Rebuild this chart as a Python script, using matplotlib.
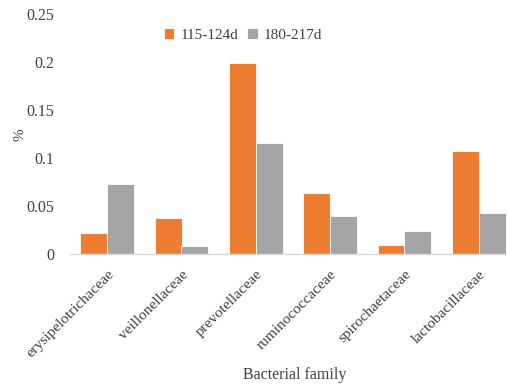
import numpy as np
import matplotlib
matplotlib.use("Agg")
import matplotlib.pyplot as plt

families = ["erysipelotrichaceae", "veillonellaceae", "prevotellaceae",
            "ruminococcaceae", "spirochaetaceae", "lactobacillaceae"]
series_names = ["115-124d", "180-217d"]
early = [0.022, 0.0375, 0.199, 0.0635, 0.009, 0.1075]
late = [0.073, 0.008, 0.1155, 0.040, 0.0235, 0.0425]
y_ticks = [0, 0.05, 0.1, 0.15, 0.2, 0.25]
y_tick_labels = ["0", "0.05", "0.1", "0.15", "0.2", "0.25"]

plt.rcParams["font.family"] = ["Liberation Serif", "DejaVu Serif"]
text_color = "#404040"

W, H = 507, 385
fig = plt.figure(figsize=(W / 100, H / 100), dpi=100)
ax = fig.add_axes([70 / W, 1 - 254 / H, 446 / W, 240 / H])

x = np.arange(len(families))
bw = 0.36
ax.bar(x - bw / 2, early, bw, color="#ED7D31", edgecolor="white", linewidth=0.6,
       label=series_names[0], zorder=2)
ax.bar(x + bw / 2, late, bw, color="#A5A5A5", edgecolor="white", linewidth=0.6,
       label=series_names[1], zorder=2)

ax.set_xlim(-0.5, len(families) - 0.5)
ax.set_ylim(0, 0.25)
ax.set_yticks(y_ticks)
ax.set_yticklabels(y_tick_labels, fontsize=11.5, color=text_color)
ax.tick_params(axis="y", length=0, pad=11)
ax.set_xticks(x)
ax.set_xticklabels(families, rotation=45, ha="right", rotation_mode="anchor",
                   fontsize=11, color=text_color)
ax.tick_params(axis="x", length=0, pad=10)

for s in ["top", "right", "left"]:
    ax.spines[s].set_visible(False)
ax.spines["bottom"].set_color("#D9D9D9")
ax.spines["bottom"].set_linewidth(1)

fig.text(20 / W, 1 - 135 / H, "%", rotation=90, ha="center", va="center",
         fontsize=11, color=text_color)
fig.text(295 / W, 1 - 375 / H, "Bacterial family", ha="center", va="center",
         fontsize=11.5, color=text_color)

leg = ax.legend(loc="center", bbox_to_anchor=(243 / W, 1 - 35 / H),
                bbox_transform=fig.transFigure, ncol=2, frameon=False,
                fontsize=11, handlelength=0.7, handleheight=0.7,
                handletextpad=0.4, columnspacing=0.6)
for t in leg.get_texts():
    t.set_color(text_color)

fig.savefig("out.png", dpi=100)
